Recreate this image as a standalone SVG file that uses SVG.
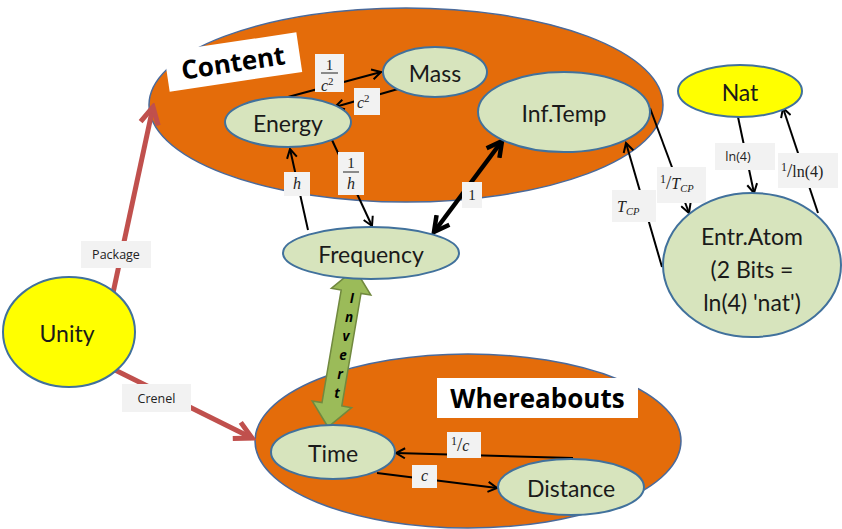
<svg xmlns="http://www.w3.org/2000/svg" width="842" height="529" viewBox="0 0 842 529">
<defs>
<style>
.cont{fill:#e46c0a;stroke:#4a6a9b;stroke-width:1.5}
.gn{fill:#d7e4bd;stroke:#41719c;stroke-width:2}
.yn{fill:#ffff00;stroke:#41719c;stroke-width:2}
.nt{font-family:Lato,"Open Sans",sans-serif;font-size:23px;fill:#1a1a1a;text-anchor:middle;dominant-baseline:central}
.title{font-family:"Open Sans",Lato,sans-serif;font-weight:bold;font-size:26px;fill:#000;text-anchor:middle;dominant-baseline:central}
.tbox{fill:#fff}
.ln{stroke:#000;stroke-width:2;fill:none}
.thick{stroke:#000;stroke-width:4.5;fill:none}
.red{stroke:#c0504d;stroke-width:5;fill:none}
.lb{fill:#f2f2f2}
.ls{font-family:"Open Sans",Lato,sans-serif;font-size:12.5px;fill:#222;text-anchor:middle;dominant-baseline:central}
.m{font-family:"Liberation Serif",serif;font-size:15px;fill:#222;text-anchor:middle;dominant-baseline:central}
.mi{font-family:"Liberation Serif",serif;font-style:italic;font-size:16px;fill:#222}
.inv{font-family:"Open Sans",sans-serif;font-weight:bold;font-style:italic;font-size:13.5px;fill:#000;text-anchor:middle;dominant-baseline:central}
</style>
<marker id="ah" viewBox="0 0 12 12" refX="10" refY="6" markerWidth="12" markerHeight="12" markerUnits="userSpaceOnUse" orient="auto-start-reverse">
<path d="M1,1 L10,6 L1,11" fill="none" stroke="#000" stroke-width="2"/>
</marker>
<marker id="ahT" viewBox="0 0 20 20" refX="17" refY="10" markerWidth="20" markerHeight="20" markerUnits="userSpaceOnUse" orient="auto-start-reverse">
<path d="M2,2 L17,10 L2,18" fill="none" stroke="#000" stroke-width="4.5"/>
</marker>
<marker id="ahR" viewBox="0 0 24 24" refX="20" refY="12" markerWidth="24" markerHeight="24" markerUnits="userSpaceOnUse" orient="auto">
<path d="M3,3 L20,12 L3,21" fill="none" stroke="#c0504d" stroke-width="5"/>
</marker>
</defs>
<rect width="842" height="529" fill="#fff"/>

<g id="content">
<ellipse class="cont" cx="406" cy="105" rx="257" ry="97"/>
<g transform="rotate(-8.5 233 62)">
<rect class="tbox" x="166" y="42" width="134" height="40"/>
<text class="title" x="233" y="62">Content</text>
</g>
</g>

<g id="whereabouts">
<ellipse class="cont" cx="468" cy="441" rx="213" ry="87"/>
<rect class="tbox" x="437" y="378" width="201" height="40"/>
<text class="title" x="537.5" y="398">Whereabouts</text>
</g>

<g id="connectors">
<line class="red" x1="113" y1="293" x2="153" y2="107" marker-end="url(#ahR)"/>
<line class="red" x1="115" y1="370" x2="252" y2="438" marker-end="url(#ahR)"/>
<line class="ln" x1="288" y1="97" x2="381" y2="72" marker-end="url(#ah)"/>
<line class="ln" x1="398" y1="89" x2="335" y2="107" marker-end="url(#ah)"/>
<line class="ln" x1="308" y1="230" x2="290" y2="149" marker-end="url(#ah)"/>
<line class="ln" x1="332" y1="140" x2="372" y2="226" marker-end="url(#ah)"/>
<line class="thick" x1="434" y1="232" x2="502" y2="141" marker-start="url(#ahT)" marker-end="url(#ahT)"/>
<line class="ln" x1="650" y1="108" x2="689" y2="213" marker-end="url(#ah)"/>
<line class="ln" x1="662" y1="267" x2="626" y2="143" marker-end="url(#ah)"/>
<line class="ln" x1="738" y1="117" x2="754" y2="193" marker-end="url(#ah)"/>
<line class="ln" x1="818" y1="213" x2="783" y2="108" marker-end="url(#ah)"/>
<line class="ln" x1="573" y1="458" x2="396" y2="453" marker-end="url(#ah)"/>
<line class="ln" x1="377" y1="473" x2="497" y2="488" marker-end="url(#ah)"/>

<rect class="lb" x="81" y="241" width="70" height="27"/>
<text class="ls" x="116" y="254.5">Package</text>
<rect class="lb" x="122" y="384" width="69" height="28"/>
<text class="ls" x="156.5" y="398">Crenel</text>

<rect class="lb" x="315" y="54" width="29" height="38"/>
<text class="m" x="329.5" y="65" font-size="14">1</text>
<line x1="321" y1="73" x2="338" y2="73" stroke="#222" stroke-width="1"/>
<text class="mi" x="321" y="91" font-size="15">c<tspan font-style="normal" font-size="11" dy="-6">2</tspan></text>

<rect class="lb" x="354" y="88" width="26" height="27"/>
<text class="mi" x="357" y="108" font-size="16">c<tspan font-style="normal" font-size="11" dy="-6">2</tspan></text>

<rect class="lb" x="284" y="172" width="26" height="24"/>
<text class="mi" x="297" y="189" text-anchor="middle">h</text>

<rect class="lb" x="338" y="152" width="26" height="43"/>
<text class="m" x="351" y="163" font-size="14">1</text>
<line x1="343" y1="172" x2="359" y2="172" stroke="#222" stroke-width="1"/>
<text class="mi" x="351" y="189" text-anchor="middle">h</text>

<rect class="lb" x="462" y="182" width="20" height="26"/>
<text class="m" x="472" y="195" font-size="15">1</text>

<rect class="lb" x="612" y="190" width="44" height="32"/>
<text class="mi" x="617" y="212" font-size="16">T<tspan font-size="10.5" dy="3">CP</tspan></text>

<rect class="lb" x="657" y="167" width="49" height="36"/>
<text class="mi" x="660" y="189" font-size="16"><tspan font-style="normal" font-size="12" dy="-6">1</tspan><tspan font-style="normal" font-size="19" dy="6">/</tspan><tspan>T</tspan><tspan font-size="10.5" dy="3">CP</tspan></text>

<rect class="lb" x="715" y="143" width="60" height="27"/>
<text class="ls" x="738" y="156">ln(4)</text>

<rect class="lb" x="778" y="153" width="60" height="35"/>
<text class="mi" x="781" y="177" font-size="16"><tspan font-style="normal" font-size="12" dy="-6">1</tspan><tspan font-style="normal" font-size="19" dy="6">/</tspan><tspan font-style="normal">ln(4)</tspan></text>

<rect class="lb" x="447" y="432" width="34" height="26"/>
<text class="mi" x="451" y="451" font-size="16"><tspan font-style="normal" font-size="12" dy="-6">1</tspan><tspan font-style="normal" font-size="19" dy="6">/</tspan><tspan>c</tspan></text>

<rect class="lb" x="412" y="465" width="25" height="23"/>
<text class="mi" x="424.5" y="481" text-anchor="middle">c</text>

<g id="invert">
<polygon points="355,269 370.8,295.1 361,293.4 341.8,406 351.6,407.7 328,427 312.2,400.9 322,402.6 341.2,290 331.4,288.3" fill="#9bbb59" stroke="#71893f" stroke-width="1.5"/>
<text class="inv" x="352" y="298">I</text>
<text class="inv" x="349" y="317">n</text>
<text class="inv" x="346" y="336">v</text>
<text class="inv" x="343" y="355">e</text>
<text class="inv" x="340" y="374">r</text>
<text class="inv" x="337" y="393">t</text>
</g>
</g>

<g id="unity"><ellipse class="yn" cx="69" cy="332" rx="66" ry="55"/><text class="nt" x="67" y="333">Unity</text></g>
<g id="mass"><ellipse class="gn" cx="435" cy="72" rx="52" ry="25"/><text class="nt" x="435" y="73">Mass</text></g>
<g id="energy"><ellipse class="gn" cx="288" cy="122" rx="63" ry="25"/><text class="nt" x="288" y="123">Energy</text></g>
<g id="inftemp"><ellipse class="gn" cx="564" cy="112" rx="86" ry="40"/><text class="nt" x="564" y="113">Inf.Temp</text></g>
<g id="frequency"><ellipse class="gn" cx="371" cy="253" rx="88" ry="26"/><text class="nt" x="371" y="254">Frequency</text></g>
<g id="nat"><ellipse class="yn" cx="740" cy="91" rx="62" ry="26"/><text class="nt" x="740" y="92">Nat</text></g>
<g id="entratom"><ellipse class="gn" cx="752" cy="265" rx="89" ry="72"/>
<text class="nt" x="752" y="236">Entr.Atom</text>
<text class="nt" x="752" y="269">(2 Bits =</text>
<text class="nt" x="752" y="302">ln(4) 'nat')</text></g>
<g id="time"><ellipse class="gn" cx="333" cy="452" rx="62" ry="27"/><text class="nt" x="333" y="453">Time</text></g>
<g id="distance"><ellipse class="gn" cx="571" cy="487" rx="73" ry="28"/><text class="nt" x="571" y="488">Distance</text></g>
</svg>
